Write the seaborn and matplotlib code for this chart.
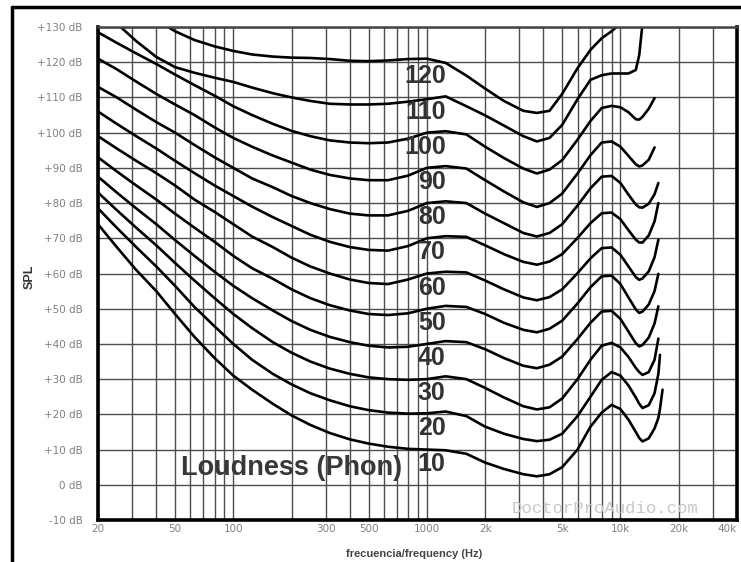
import numpy as np
import pandas as pd
import seaborn as sns
import matplotlib.pyplot as plt
from matplotlib.lines import Line2D
from matplotlib.ticker import FixedLocator

nan = np.nan

# frecuencias de lectura (Hz)
freqs = [20, 25, 31.5, 40, 50, 63, 80, 100, 125, 160, 200, 250, 315, 400, 500, 630, 800, 1000,
         1250, 1600, 2000, 2500, 3150, 3700, 4300, 5000, 6000, 7000, 8000, 9000, 10000, 11000,
         12000, 12500, 13000, 14000, 15000, 15700, 16000, 16500]

# curvas isofónicas (dB SPL)
p10 = [74, 67.5, 61, 55, 48.5, 42, 36, 31, 27, 23, 19.7, 17, 14.7, 12.9, 11.7, 10.8, 10.2, 10,
       9.8, 8.8, 6.3, 4.5, 3.0, 2.4, 3.0, 5.0, 10.0, 16.5, 20.5, 22.7, 21.5, 18.5,
       15.0, 13.3, 12.3, 13.2, 16.0, 19.0, 21.5, 27.0]
p20 = [78.5, 73, 67.5, 62, 56.5, 50.5, 45, 40, 35.5, 31.5, 28.5, 26, 24, 22.3, 21.2, 20.5, 20.2, 20.3,
       20.8, 19.5, 16.5, 14.5, 13.0, 12.4, 12.8, 14.5, 19.5, 25.0, 29.8, 32.0, 31.0, 28.2,
       24.8, 23.0, 21.8, 22.6, 26.0, 31.5, 36.9, nan]
p30 = [83, 78, 73, 68, 63, 58, 53, 48.5, 44.5, 40.5, 37.5, 35, 33, 31.5, 30.5, 30, 29.8, 30,
       30.8, 30.0, 27.5, 24.8, 22.3, 21.4, 22.0, 24.5, 30.0, 35.5, 39.5, 40.3, 39.0, 36.3,
       33.2, 32.0, 31.2, 32.0, 35.5, 41.5, nan, nan]
p40 = [87.5, 83, 78.5, 74, 69.5, 65, 60.5, 56.5, 53, 49.5, 46.5, 44, 42, 40.5, 39.5, 39, 39.2, 40,
       40.8, 40.5, 38.5, 36.0, 33.8, 33.1, 34.1, 36.4, 41.4, 46.0, 49.2, 49.4, 47.1, 43.5,
       40.2, 39.3, 39.7, 41.8, 45.8, 50.7, nan, nan]
p50 = [93, 89, 85, 81, 77, 73, 69, 65, 61.5, 58.5, 55.5, 53, 51, 49.5, 48.5, 48.2, 48.7, 50,
       50.8, 50.5, 48.5, 46.0, 44.0, 43.3, 44.3, 46.6, 51.5, 56.1, 59.2, 59.4, 57.0, 53.2,
       49.8, 48.8, 49.2, 51.2, 55.0, 59.9, nan, nan]
p60 = [99, 95.5, 92, 88.5, 85, 81, 77.5, 74, 70.5, 67.5, 64.5, 62, 60, 58.3, 57.3, 57, 58.3, 60,
       60.5, 60.3, 58.0, 55.5, 53.2, 52.4, 53.3, 55.5, 60.1, 64.3, 67.2, 67.4, 65.3, 62.0,
       59.0, 58.2, 58.6, 60.6, 64.6, 69.6, nan, nan]
p70 = [106, 102.5, 99, 95.5, 92, 88.5, 85, 82, 79, 76, 73.5, 71, 69, 67.5, 66.7, 66.5, 67.8, 70,
       70.6, 70.4, 68.0, 65.5, 63.3, 62.5, 63.4, 65.5, 70.1, 74.3, 77.1, 77.3, 75.4, 72.3,
       69.6, 68.8, 68.8, 70.8, 74.8, 80.0, nan, nan]
p80 = [113, 110, 106.5, 103, 100, 96.5, 93, 90, 87, 84.5, 82, 80, 78.3, 77, 76.5, 76.5, 77.8, 80,
       80.5, 80.0, 77.0, 74.3, 71.5, 70.5, 71.5, 74.0, 79.3, 84.2, 87.5, 87.7, 85.7, 82.4,
       79.6, 78.8, 78.7, 79.8, 82.5, 85.7, nan, nan]
p90 = [121, 118, 114.5, 111, 108, 105, 101.5, 98.5, 96, 93.5, 91.5, 89.5, 88, 87, 86.5, 86.5, 87.8, 90,
       90.5, 89.8, 86.5, 83.3, 80.2, 78.9, 80.0, 82.7, 88.4, 93.6, 97.2, 97.5, 96.0, 93.4,
       91.0, 90.4, 90.7, 92.3, 95.8, nan, nan, nan]
p100 = [128.5, 125.5, 122.5, 119.5, 116.5, 113.5, 110.5, 107.5, 105, 102.5, 100.5, 99, 97.8, 97.2, 97, 97.2, 98.3, 100,
        100.4, 99.5, 96.0, 92.8, 89.8, 88.4, 89.5, 92.2, 98.0, 103.3, 107.0, 107.6, 107.2, 105.8,
        103.8, 103.7, 104.5, 106.8, 109.8, nan, nan, nan]
p110 = [nan, 131, 126, 121.5, 118.6, 117, 115.6, 114.4, 112.8, 111.2, 110, 109, 108.2, 108, 108, 108.2, 108.8, 109.5,
        110.3, 107.5, 104.9, 102.0, 99.0, 97.5, 98.5, 102.2, 109.5, 115.0, 116.3, 116.8, 116.8, 116.8,
        117.8, 122.0, 131.0, nan, nan, nan, nan, nan]
p120 = [nan, nan, nan, 132, 128.8, 126.3, 124.5, 123.2, 122.2, 121.6, 121.3, 121.2, 120.9, 120.4, 120.3, 120.5, 120.9, 121,
        119.8, 116.2, 112.5, 109.0, 106.2, 105.6, 106.2, 111.0, 118.3, 123.5, 126.8, 128.8, 131.0, nan,
        nan, nan, nan, nan, nan, nan, nan, nan]

phons = [10, 20, 30, 40, 50, 60, 70, 80, 90, 100, 110, 120]
curves = [p10, p20, p30, p40, p50, p60, p70, p80, p90, p100, p110, p120]

xtick_vals = [20, 50, 100, 300, 500, 1000, 2000, 5000, 10000, 20000, 40000]
xtick_labels = ["20", "50", "100", "300", "500", "1000", "2k", "5k", "10k", "20k", "40k"]
ytick_vals = list(range(-10, 131, 10))
ytick_labels = [("+%d dB" % v) if v > 0 else ("%d dB" % v) for v in ytick_vals]

df = pd.DataFrame({
    "freq": np.tile(freqs, len(phons)),
    "spl": np.concatenate(curves),
    "phon": np.repeat(phons, len(freqs)),
}).dropna()

sns.set_style("white")
plt.rcParams["font.family"] = ["DejaVu Sans"]

fig = plt.figure(figsize=(7.41, 5.62), dpi=100)
ax = fig.add_axes([98 / 741, 42 / 562, 639 / 741, 493 / 562])

sns.lineplot(data=df, x="freq", y="spl", hue="phon", palette={p: "black" for p in phons},
             estimator=None, legend=False, lw=1.9, ax=ax)

ax.set_xscale("log")
ax.set_xlim(20, 40000)
ax.set_ylim(-10, 130)

ax.set_xticks(xtick_vals)
ax.set_xticklabels(xtick_labels)
ax.get_xticklabels()[-1].set_ha("right")
minors = [k * 10 ** e for e in range(1, 5) for k in range(1, 10) if 20 <= k * 10 ** e <= 40000]
ax.xaxis.set_minor_locator(FixedLocator(minors))
ax.xaxis.set_minor_formatter(plt.NullFormatter())
ax.set_yticks(ytick_vals)
ax.set_yticklabels(ytick_labels)

ax.tick_params(axis="both", which="both", length=0, colors="#808080", labelsize=7.5)
ax.tick_params(axis="y", pad=11)
ax.tick_params(axis="x", pad=3)
ax.grid(True, which="both", color="#4d4d4d", lw=1.0)

for side in ["left", "bottom", "right"]:
    ax.spines[side].set_color("black")
    ax.spines[side].set_linewidth(2.6)
ax.spines["top"].set_color("#444444")
ax.spines["top"].set_linewidth(1.8)

ax.set_xlabel("frecuencia/frequency (Hz)", fontsize=8, fontweight="bold", color="#444444",
              family=["Liberation Sans", "DejaVu Sans"])
ax.xaxis.set_label_coords(0.495, -0.058)
ax.set_ylabel("SPL", fontsize=9, fontweight="bold", color="#333333",
              family=["Liberation Sans", "DejaVu Sans"])
ax.yaxis.set_label_coords(-0.097, 0.493)

# etiquetas de cada curva
for p in phons:
    ax.text(1250, p - 4.0, str(p), ha="right", va="center", fontsize=18, fontweight="bold",
            color="#333333", family=["Liberation Sans", "DejaVu Sans"])

ax.text(0.130, 0.105, "Loudness (Phon)", transform=ax.transAxes, ha="left", va="center",
        fontsize=19.5, fontweight="bold", color="#383838", family=["Liberation Sans", "DejaVu Sans"])

ax.text(0.793, 0.024, "DoctorProAudio.com", transform=ax.transAxes, ha="center", va="center",
        fontsize=12.5, color="#c8c8c8", family=["Liberation Mono", "DejaVu Sans Mono"])

# marco exterior (solo izquierda y arriba visibles)
fig.add_artist(Line2D([12 / 741, 12 / 741], [0, 1 - 7 / 562], transform=fig.transFigure,
                      color="black", lw=2.5))
fig.add_artist(Line2D([12 / 741, 1], [1 - 7 / 562, 1 - 7 / 562], transform=fig.transFigure,
                      color="black", lw=2.5))

fig.savefig("out.png", dpi=100)
